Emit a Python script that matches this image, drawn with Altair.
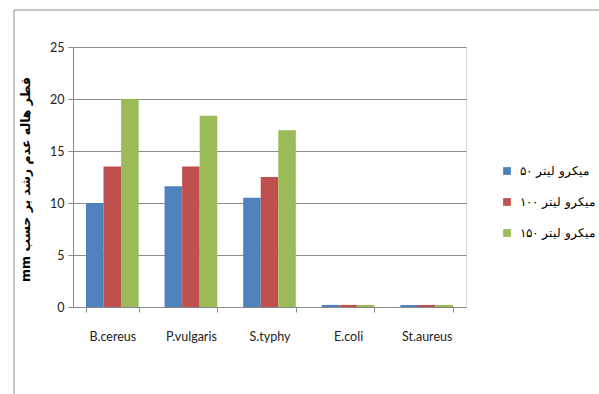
import altair as alt
import pandas as pd

bacteria = ["B.cereus", "P.vulgaris", "S.typhy", "E.coli", "St.aureus"]
series = ["میکرو لیتر ۵۰", "میکرو لیتر ۱۰۰", "میکرو لیتر ۱۵۰"]
v50 = [10, 11.6, 10.5, 0.2, 0.2]
v100 = [13.5, 13.5, 12.5, 0.2, 0.2]
v150 = [20, 18.4, 17, 0.2, 0.2]
colors = ["#4F81BD", "#C0504D", "#9BBB59"]
y_title = "mm قطر هاله عدم رشد بر حسب"

rows = []
for s, vals in zip(series, [v50, v100, v150]):
    for b, v in zip(bacteria, vals):
        rows.append({"bacteria": b, "dose": s, "value": v})
df = pd.DataFrame(rows)

frame = alt.Chart(pd.DataFrame({"a": [0]})).mark_rect(
    fill=None, stroke="#8c8c8c", strokeWidth=1
).encode(
    x=alt.value(-59), x2=alt.value(540), y=alt.value(-37), y2=alt.value(360)
)

bars = alt.Chart(df).mark_bar().encode(
    x=alt.X("bacteria:N", sort=bacteria, title=None,
            scale=alt.Scale(paddingInner=0.33, paddingOuter=0.165),
            axis=alt.Axis(labelAngle=0, labelFont="Lato", labelFontSize=12.5,
                          labelColor="#222222", labelPadding=18,
                          domainColor="#888888", tickColor="#888888",
                          tickBand="extent", tickSize=5, grid=False)),
    xOffset=alt.XOffset("dose:N", sort=series),
    y=alt.Y("value:Q", title=y_title,
            scale=alt.Scale(domain=[0, 25]),
            axis=alt.Axis(values=[0, 5, 10, 15, 20, 25], labelFont="Lato",
                          labelFontSize=12.5, labelColor="#222222", labelPadding=4,
                          domainColor="#888888", tickColor="#888888", tickSize=5,
                          gridColor="#8c8c8c", gridWidth=1,
                          titleFont="DejaVu Sans", titleFontSize=12.5,
                          titleFontWeight="bold", titleColor="#000000",
                          titlePadding=17, titleY=132)),
    color=alt.Color("dose:N", sort=series,
                    scale=alt.Scale(domain=series, range=colors),
                    legend=alt.Legend(title=None, orient="none", legendX=428,
                                      legendY=118, symbolType="square",
                                      symbolSize=60, symbolStrokeWidth=0,
                                      labelFont="DejaVu Serif", labelFontSize=12,
                                      labelColor="#000000", rowPadding=19,
                                      labelOffset=7)),
)

chart = alt.layer(frame, bars).properties(
    width=393, height=260,
    autosize=alt.AutoSizeParams(type="none"),
    padding={"left": 73, "top": 47, "right": 133, "bottom": 87},
).configure_view(stroke=None).configure(background="white")

chart.save("out.html", embed_options={"renderer": "svg", "actions": False})
